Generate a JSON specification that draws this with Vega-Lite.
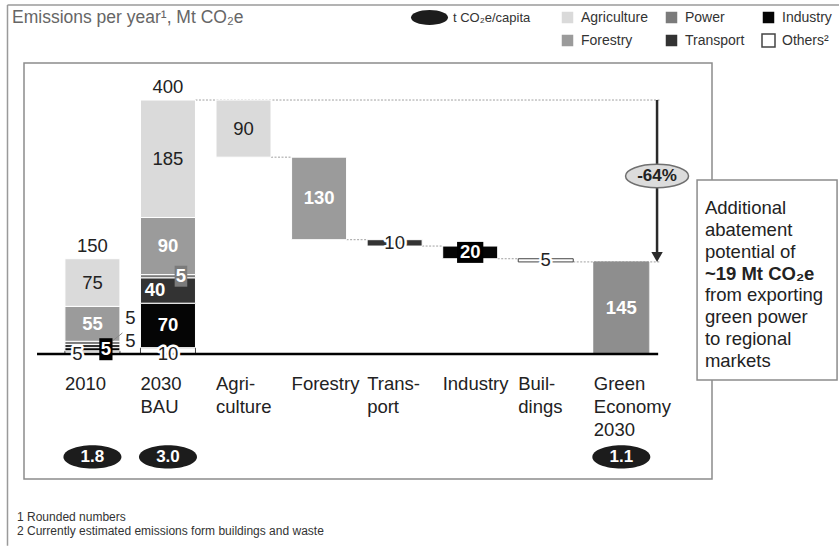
{
  "$schema": "https://vega.github.io/schema/vega-lite/v6.json",
  "width": 688,
  "height": 416,
  "autosize": {"type": "none"},
  "padding": {"left": 24, "top": 63, "right": 127, "bottom": 67},
  "background": "white",
  "config": {
    "view": {"stroke": "#8c8c8c", "strokeWidth": 1.5},
    "axis": {"disable": true},
    "text": {"font": "Liberation Sans"},
    "legend": {"labelFont": "Liberation Sans"}
  },
  "datasets": {
    "bars": [
      {"cat": "2010", "sector": "Others", "lo": 0, "hi": 5, "value": 5, "mid": 2.5},
      {"cat": "2010", "sector": "Industry", "lo": 5, "hi": 10, "value": 5, "mid": 7.5},
      {"cat": "2010", "sector": "Transport", "lo": 10, "hi": 15, "value": 5, "mid": 12.5},
      {"cat": "2010", "sector": "Power", "lo": 15, "hi": 20, "value": 5, "mid": 17.5},
      {"cat": "2010", "sector": "Forestry", "lo": 20, "hi": 75, "value": 55, "mid": 47.5},
      {"cat": "2010", "sector": "Agriculture", "lo": 75, "hi": 150, "value": 75, "mid": 112.5},
      {"cat": "2030 BAU", "sector": "Others", "lo": 0, "hi": 10, "value": 10, "mid": 5},
      {"cat": "2030 BAU", "sector": "Industry", "lo": 10, "hi": 80, "value": 70, "mid": 45},
      {"cat": "2030 BAU", "sector": "Transport", "lo": 80, "hi": 120, "value": 40, "mid": 100},
      {"cat": "2030 BAU", "sector": "Power", "lo": 120, "hi": 125, "value": 5, "mid": 122.5},
      {"cat": "2030 BAU", "sector": "Forestry", "lo": 125, "hi": 215, "value": 90, "mid": 170},
      {"cat": "2030 BAU", "sector": "Agriculture", "lo": 215, "hi": 400, "value": 185, "mid": 307.5},
      {"cat": "Agriculture", "sector": "Agriculture", "lo": 310, "hi": 400, "value": 90, "mid": 355},
      {"cat": "Forestry", "sector": "Forestry", "lo": 180, "hi": 310, "value": 130, "mid": 245},
      {"cat": "Transport", "sector": "Transport", "lo": 170, "hi": 180, "value": 10, "mid": 175},
      {"cat": "Industry", "sector": "Industry", "lo": 150, "hi": 170, "value": 20, "mid": 160},
      {"cat": "Buildings", "sector": "Others", "lo": 145, "hi": 150, "value": 5, "mid": 147.5},
      {"cat": "Green Economy 2030", "sector": "Total", "lo": 0, "hi": 145, "value": 145, "mid": 72.5}
    ],
    "totals": [
      {"cat": "2010", "total": 150},
      {"cat": "2030 BAU", "total": 400}
    ],
    "connectors": [
      {"from": "Agriculture", "to": "Forestry", "level": 310},
      {"from": "Forestry", "to": "Transport", "level": 180},
      {"from": "Transport", "to": "Industry", "level": 170},
      {"from": "Industry", "to": "Buildings", "level": 150}
    ],
    "arrowlinks": [
      {"from": "2030 BAU", "level": 400},
      {"from": "Buildings", "level": 145}
    ],
    "percap": [
      {"cat": "2010", "v": 1.8, "unit": "t CO₂e/capita"},
      {"cat": "2030 BAU", "v": 3.0, "unit": "t CO₂e/capita"},
      {"cat": "Green Economy 2030", "v": 1.1, "unit": "t CO₂e/capita"}
    ],
    "cats": [
      {"cat": "2010", "label": ["2010"]},
      {"cat": "2030 BAU", "label": ["2030", "BAU"]},
      {"cat": "Agriculture", "label": ["Agri-", "culture"]},
      {"cat": "Forestry", "label": ["Forestry"]},
      {"cat": "Transport", "label": ["Trans-", "port"]},
      {"cat": "Industry", "label": ["Industry"]},
      {"cat": "Buildings", "label": ["Buil-", "dings"]},
      {"cat": "Green Economy 2030", "label": ["Green", "Economy", "2030"]}
    ]
  },
  "layer": [
    {
      "data": {"values": [{}]},
      "mark": {"type": "rule", "stroke": "#9a9a9a", "strokeWidth": 1.5},
      "encoding": {
        "x": {"datum": "2010", "type": "nominal", "bandPosition": -1.044, "scale": {"type": "band", "domain": ["2010", "2030 BAU", "Agriculture", "Forestry", "Transport", "Industry", "Buildings", "Green Economy 2030"], "paddingInner": 0.272, "paddingOuter": 0.689, "align": 0.393, "round": false}},
        "y": {"datum": 549.6, "type": "quantitative", "scale": {"domain": [-196.9, 458.3], "nice": false, "zero": false}},
        "y2": {"datum": -302}
      }
    },
    {
      "data": {"values": [{}]},
      "mark": {"type": "rule", "stroke": "#9a9a9a", "strokeWidth": 1.5},
      "encoding": {
        "x": {"datum": "2010", "type": "nominal", "bandPosition": -1.044, "scale": {"type": "band", "domain": ["2010", "2030 BAU", "Agriculture", "Forestry", "Transport", "Industry", "Buildings", "Green Economy 2030"], "paddingInner": 0.272, "paddingOuter": 0.689, "align": 0.393, "round": false}},
        "x2": {"datum": "Green Economy 2030", "bandPosition": 4.46},
        "y": {"datum": 549.6, "type": "quantitative", "scale": {"domain": [-196.9, 458.3], "nice": false, "zero": false}}
      }
    },
    {
      "data": {"values": [{}]},
      "mark": {"type": "text", "text": "Emissions per year¹, Mt CO₂e", "align": "left", "baseline": "alphabetic", "fontSize": 17.5, "color": "#666666"},
      "encoding": {
        "x": {"datum": "2010", "type": "nominal", "bandPosition": -0.962, "scale": {"type": "band", "domain": ["2010", "2030 BAU", "Agriculture", "Forestry", "Transport", "Industry", "Buildings", "Green Economy 2030"], "paddingInner": 0.272, "paddingOuter": 0.689, "align": 0.393, "round": false}},
        "y": {"datum": 521.3, "type": "quantitative", "scale": {"domain": [-196.9, 458.3], "nice": false, "zero": false}}
      }
    },
    {
      "data": {"name": "connectors"},
      "mark": {"type": "rule", "stroke": "#a0a0a0", "strokeWidth": 1, "strokeDash": [2, 1.5]},
      "encoding": {
        "x": {"field": "from", "type": "nominal", "bandPosition": 1, "scale": {"type": "band", "domain": ["2010", "2030 BAU", "Agriculture", "Forestry", "Transport", "Industry", "Buildings", "Green Economy 2030"], "paddingInner": 0.272, "paddingOuter": 0.689, "align": 0.393, "round": false}},
        "x2": {"field": "to", "bandPosition": 0},
        "y": {"field": "level", "type": "quantitative", "scale": {"domain": [-196.9, 458.3], "nice": false, "zero": false}}
      }
    },
    {
      "data": {"name": "arrowlinks"},
      "mark": {"type": "rule", "stroke": "#a0a0a0", "strokeWidth": 1, "strokeDash": [2, 1.5]},
      "encoding": {
        "x": {"field": "from", "type": "nominal", "bandPosition": 1, "scale": {"type": "band", "domain": ["2010", "2030 BAU", "Agriculture", "Forestry", "Transport", "Industry", "Buildings", "Green Economy 2030"], "paddingInner": 0.272, "paddingOuter": 0.689, "align": 0.393, "round": false}},
        "x2": {"datum": "Green Economy 2030", "bandPosition": 1.205},
        "y": {"field": "level", "type": "quantitative", "scale": {"domain": [-196.9, 458.3], "nice": false, "zero": false}}
      }
    },
    {
      "data": {"name": "bars"},
      "mark": {"type": "bar", "strokeWidth": 1},
      "encoding": {
        "x": {"field": "cat", "type": "nominal", "scale": {"type": "band", "domain": ["2010", "2030 BAU", "Agriculture", "Forestry", "Transport", "Industry", "Buildings", "Green Economy 2030"], "paddingInner": 0.272, "paddingOuter": 0.689, "align": 0.393, "round": false}},
        "y": {"field": "lo", "type": "quantitative", "scale": {"domain": [-196.9, 458.3], "nice": false, "zero": false}},
        "y2": {"field": "hi"},
        "fill": {
          "field": "sector", "type": "nominal",
          "scale": {"domain": ["Agriculture", "Power", "Industry", "Forestry", "Transport", "Others", "Total"], "range": ["#dadada", "#7b7b7b", "#050505", "#9b9b9b", "#333333", "#ffffff", "#8e8e8e"]},
          "legend": {"orient": "none", "legendX": 536, "legendY": -53, "title": null, "columns": 3, "columnPadding": 14, "rowPadding": 4, "symbolType": "square", "symbolSize": 169, "labelFontSize": 14, "labelColor": "#333333", "labelOffset": 6, "padding": 0, "values": ["Agriculture", "Forestry", "Power", "Transport", "Industry", "Others"], "labelExpr": "datum.label == 'Others' ? 'Others²' : datum.label"}
        },
        "stroke": {
          "field": "sector", "type": "nominal",
          "scale": {"domain": ["Agriculture", "Power", "Industry", "Forestry", "Transport", "Others", "Total"], "range": ["#ffffff", "#ffffff", "#ffffff", "#ffffff", "#ffffff", "#444444", "#8e8e8e"]},
          "legend": {"orient": "none", "legendX": 536, "legendY": -53, "title": null, "columns": 3, "columnPadding": 14, "rowPadding": 4, "symbolType": "square", "symbolSize": 169, "labelFontSize": 14, "labelColor": "#333333", "labelOffset": 6, "padding": 0, "values": ["Agriculture", "Forestry", "Power", "Transport", "Industry", "Others"], "labelExpr": "datum.label == 'Others' ? 'Others²' : datum.label"}
        }
      }
    },
    {
      "data": {"values": [{}]},
      "mark": {"type": "rule", "stroke": "#000000", "strokeWidth": 2.5},
      "encoding": {
        "x": {"datum": "2010", "type": "nominal", "bandPosition": -0.507, "scale": {"type": "band", "domain": ["2010", "2030 BAU", "Agriculture", "Forestry", "Transport", "Industry", "Buildings", "Green Economy 2030"], "paddingInner": 0.272, "paddingOuter": 0.689, "align": 0.393, "round": false}},
        "x2": {"datum": "Green Economy 2030", "bandPosition": 1.17},
        "y": {"datum": 0, "type": "quantitative", "scale": {"domain": [-196.9, 458.3], "nice": false, "zero": false}}
      }
    },
    {
      "data": {"values": [{}]},
      "mark": {"type": "rule", "stroke": "#888888", "strokeWidth": 1},
      "encoding": {
        "x": {"datum": "2010", "type": "nominal", "bandPosition": 0.864, "scale": {"type": "band", "domain": ["2010", "2030 BAU", "Agriculture", "Forestry", "Transport", "Industry", "Buildings", "Green Economy 2030"], "paddingInner": 0.272, "paddingOuter": 0.689, "align": 0.393, "round": false}},
        "x2": {"datum": "2010", "bandPosition": 1.045},
        "y": {"datum": 20.5, "type": "quantitative", "scale": {"domain": [-196.9, 458.3], "nice": false, "zero": false}},
        "y2": {"datum": 33.1}
      }
    },
    {
      "data": {"name": "bars"},
      "transform": [{"filter": "datum.cat == '2010' && datum.sector == 'Industry'"}],
      "mark": {"type": "point", "shape": "M-0.6,-1H0.6V1H-0.6Z", "size": 484, "filled": true, "color": "#000000", "opacity": 1, "strokeWidth": 0},
      "encoding": {
        "x": {"field": "cat", "type": "nominal", "bandPosition": 0.745, "scale": {"type": "band", "domain": ["2010", "2030 BAU", "Agriculture", "Forestry", "Transport", "Industry", "Buildings", "Green Economy 2030"], "paddingInner": 0.272, "paddingOuter": 0.689, "align": 0.393, "round": false}},
        "y": {"field": "mid", "type": "quantitative", "scale": {"domain": [-196.9, 458.3], "nice": false, "zero": false}}
      }
    },
    {
      "data": {"name": "bars"},
      "transform": [{"filter": "datum.cat == 'Industry'"}],
      "mark": {"type": "point", "shape": "M-1.25,-1H1.25V1H-1.25Z", "size": 441, "filled": true, "color": "#000000", "opacity": 1, "strokeWidth": 0},
      "encoding": {
        "x": {"field": "cat", "type": "nominal", "scale": {"type": "band", "domain": ["2010", "2030 BAU", "Agriculture", "Forestry", "Transport", "Industry", "Buildings", "Green Economy 2030"], "paddingInner": 0.272, "paddingOuter": 0.689, "align": 0.393, "round": false}},
        "y": {"field": "mid", "type": "quantitative", "scale": {"domain": [-196.9, 458.3], "nice": false, "zero": false}}
      }
    },
    {
      "data": {"name": "bars"},
      "transform": [{"filter": "datum.cat == '2030 BAU' && datum.sector == 'Power'"}],
      "mark": {"type": "point", "shape": "M-0.6,-1H0.6V1H-0.6Z", "size": 441, "filled": true, "color": "#7b7b7b", "opacity": 1, "strokeWidth": 0},
      "encoding": {
        "x": {"field": "cat", "type": "nominal", "bandPosition": 0.736, "scale": {"type": "band", "domain": ["2010", "2030 BAU", "Agriculture", "Forestry", "Transport", "Industry", "Buildings", "Green Economy 2030"], "paddingInner": 0.272, "paddingOuter": 0.689, "align": 0.393, "round": false}},
        "y": {"field": "mid", "type": "quantitative", "scale": {"domain": [-196.9, 458.3], "nice": false, "zero": false}}
      }
    },
    {
      "data": {"name": "bars"},
      "transform": [{"filter": "datum.cat == '2010' && datum.sector == 'Others'"}],
      "mark": {"type": "text", "dx": -15, "baseline": "middle", "fontSize": 18.5, "fill": "#ffffff", "stroke": "#ffffff", "strokeWidth": 5, "strokeJoin": "round"},
      "encoding": {
        "x": {"field": "cat", "type": "nominal", "scale": {"type": "band", "domain": ["2010", "2030 BAU", "Agriculture", "Forestry", "Transport", "Industry", "Buildings", "Green Economy 2030"], "paddingInner": 0.272, "paddingOuter": 0.689, "align": 0.393, "round": false}},
        "y": {"field": "lo", "type": "quantitative", "scale": {"domain": [-196.9, 458.3], "nice": false, "zero": false}},
        "text": {"field": "value", "type": "quantitative"}
      }
    },
    {
      "data": {"name": "bars"},
      "transform": [{"filter": "datum.cat == '2010' && datum.sector == 'Others'"}],
      "mark": {"type": "text", "dx": -15, "baseline": "middle", "fontSize": 18.5, "color": "#222222"},
      "encoding": {
        "x": {"field": "cat", "type": "nominal", "scale": {"type": "band", "domain": ["2010", "2030 BAU", "Agriculture", "Forestry", "Transport", "Industry", "Buildings", "Green Economy 2030"], "paddingInner": 0.272, "paddingOuter": 0.689, "align": 0.393, "round": false}},
        "y": {"field": "lo", "type": "quantitative", "scale": {"domain": [-196.9, 458.3], "nice": false, "zero": false}},
        "text": {"field": "value", "type": "quantitative"}
      }
    },
    {
      "data": {"name": "bars"},
      "transform": [{"filter": "datum.cat == '2030 BAU' && datum.sector == 'Others'"}],
      "mark": {"type": "text", "baseline": "middle", "fontSize": 18.5, "fill": "#ffffff", "stroke": "#ffffff", "strokeWidth": 5, "strokeJoin": "round"},
      "encoding": {
        "x": {"field": "cat", "type": "nominal", "scale": {"type": "band", "domain": ["2010", "2030 BAU", "Agriculture", "Forestry", "Transport", "Industry", "Buildings", "Green Economy 2030"], "paddingInner": 0.272, "paddingOuter": 0.689, "align": 0.393, "round": false}},
        "y": {"field": "lo", "type": "quantitative", "scale": {"domain": [-196.9, 458.3], "nice": false, "zero": false}},
        "text": {"field": "value", "type": "quantitative"}
      }
    },
    {
      "data": {"name": "bars"},
      "transform": [{"filter": "datum.cat == '2030 BAU' && datum.sector == 'Others'"}],
      "mark": {"type": "text", "baseline": "middle", "fontSize": 18.5, "color": "#222222"},
      "encoding": {
        "x": {"field": "cat", "type": "nominal", "scale": {"type": "band", "domain": ["2010", "2030 BAU", "Agriculture", "Forestry", "Transport", "Industry", "Buildings", "Green Economy 2030"], "paddingInner": 0.272, "paddingOuter": 0.689, "align": 0.393, "round": false}},
        "y": {"field": "lo", "type": "quantitative", "scale": {"domain": [-196.9, 458.3], "nice": false, "zero": false}},
        "text": {"field": "value", "type": "quantitative"}
      }
    },
    {
      "data": {"name": "bars"},
      "transform": [{"filter": "datum.cat == 'Transport' || datum.cat == 'Buildings'"}],
      "mark": {"type": "text", "baseline": "middle", "fontSize": 18.5, "fill": "#ffffff", "stroke": "#ffffff", "strokeWidth": 5, "strokeJoin": "round"},
      "encoding": {
        "x": {"field": "cat", "type": "nominal", "scale": {"type": "band", "domain": ["2010", "2030 BAU", "Agriculture", "Forestry", "Transport", "Industry", "Buildings", "Green Economy 2030"], "paddingInner": 0.272, "paddingOuter": 0.689, "align": 0.393, "round": false}},
        "y": {"field": "mid", "type": "quantitative", "scale": {"domain": [-196.9, 458.3], "nice": false, "zero": false}},
        "text": {"field": "value", "type": "quantitative"}
      }
    },
    {
      "data": {"name": "bars"},
      "transform": [{"filter": "datum.cat == 'Transport' || datum.cat == 'Buildings'"}],
      "mark": {"type": "text", "baseline": "middle", "fontSize": 18.5, "color": "#222222"},
      "encoding": {
        "x": {"field": "cat", "type": "nominal", "scale": {"type": "band", "domain": ["2010", "2030 BAU", "Agriculture", "Forestry", "Transport", "Industry", "Buildings", "Green Economy 2030"], "paddingInner": 0.272, "paddingOuter": 0.689, "align": 0.393, "round": false}},
        "y": {"field": "mid", "type": "quantitative", "scale": {"domain": [-196.9, 458.3], "nice": false, "zero": false}},
        "text": {"field": "value", "type": "quantitative"}
      }
    },
    {
      "data": {"name": "bars"},
      "transform": [{"filter": "datum.sector == 'Agriculture'"}],
      "mark": {"type": "text", "baseline": "middle", "fontSize": 18.5, "color": "#222222"},
      "encoding": {
        "x": {"field": "cat", "type": "nominal", "scale": {"type": "band", "domain": ["2010", "2030 BAU", "Agriculture", "Forestry", "Transport", "Industry", "Buildings", "Green Economy 2030"], "paddingInner": 0.272, "paddingOuter": 0.689, "align": 0.393, "round": false}},
        "y": {"field": "mid", "type": "quantitative", "scale": {"domain": [-196.9, 458.3], "nice": false, "zero": false}},
        "text": {"field": "value", "type": "quantitative"}
      }
    },
    {
      "data": {"name": "bars"},
      "transform": [{"filter": "datum.sector == 'Forestry' || datum.sector == 'Total' || (datum.cat == '2030 BAU' && datum.sector == 'Industry')"}],
      "mark": {"type": "text", "baseline": "middle", "fontSize": 18.5, "fontWeight": "bold", "color": "#ffffff"},
      "encoding": {
        "x": {"field": "cat", "type": "nominal", "scale": {"type": "band", "domain": ["2010", "2030 BAU", "Agriculture", "Forestry", "Transport", "Industry", "Buildings", "Green Economy 2030"], "paddingInner": 0.272, "paddingOuter": 0.689, "align": 0.393, "round": false}},
        "y": {"field": "mid", "type": "quantitative", "scale": {"domain": [-196.9, 458.3], "nice": false, "zero": false}},
        "text": {"field": "value", "type": "quantitative"}
      }
    },
    {
      "data": {"name": "bars"},
      "transform": [{"filter": "datum.cat == '2030 BAU' && datum.sector == 'Transport'"}],
      "mark": {"type": "text", "dx": -13, "baseline": "middle", "fontSize": 18.5, "fontWeight": "bold", "color": "#ffffff"},
      "encoding": {
        "x": {"field": "cat", "type": "nominal", "scale": {"type": "band", "domain": ["2010", "2030 BAU", "Agriculture", "Forestry", "Transport", "Industry", "Buildings", "Green Economy 2030"], "paddingInner": 0.272, "paddingOuter": 0.689, "align": 0.393, "round": false}},
        "y": {"field": "mid", "type": "quantitative", "scale": {"domain": [-196.9, 458.3], "nice": false, "zero": false}},
        "text": {"field": "value", "type": "quantitative"}
      }
    },
    {
      "data": {"name": "bars"},
      "transform": [{"filter": "datum.cat == '2010' && datum.sector == 'Industry'"}],
      "mark": {"type": "text", "dx": 13.5, "baseline": "middle", "fontSize": 18.5, "fontWeight": "bold", "color": "#ffffff"},
      "encoding": {
        "x": {"field": "cat", "type": "nominal", "scale": {"type": "band", "domain": ["2010", "2030 BAU", "Agriculture", "Forestry", "Transport", "Industry", "Buildings", "Green Economy 2030"], "paddingInner": 0.272, "paddingOuter": 0.689, "align": 0.393, "round": false}},
        "y": {"field": "mid", "type": "quantitative", "scale": {"domain": [-196.9, 458.3], "nice": false, "zero": false}},
        "text": {"field": "value", "type": "quantitative"}
      }
    },
    {
      "data": {"name": "bars"},
      "transform": [{"filter": "datum.cat == 'Industry'"}],
      "mark": {"type": "text", "baseline": "middle", "fontSize": 18.5, "fontWeight": "bold", "color": "#ffffff"},
      "encoding": {
        "x": {"field": "cat", "type": "nominal", "scale": {"type": "band", "domain": ["2010", "2030 BAU", "Agriculture", "Forestry", "Transport", "Industry", "Buildings", "Green Economy 2030"], "paddingInner": 0.272, "paddingOuter": 0.689, "align": 0.393, "round": false}},
        "y": {"field": "mid", "type": "quantitative", "scale": {"domain": [-196.9, 458.3], "nice": false, "zero": false}},
        "text": {"field": "value", "type": "quantitative"}
      }
    },
    {
      "data": {"name": "bars"},
      "transform": [{"filter": "datum.cat == '2030 BAU' && datum.sector == 'Power'"}],
      "mark": {"type": "text", "dx": 13, "baseline": "middle", "fontSize": 18.5, "fontWeight": "bold", "color": "#ffffff"},
      "encoding": {
        "x": {"field": "cat", "type": "nominal", "scale": {"type": "band", "domain": ["2010", "2030 BAU", "Agriculture", "Forestry", "Transport", "Industry", "Buildings", "Green Economy 2030"], "paddingInner": 0.272, "paddingOuter": 0.689, "align": 0.393, "round": false}},
        "y": {"field": "mid", "type": "quantitative", "scale": {"domain": [-196.9, 458.3], "nice": false, "zero": false}},
        "text": {"field": "value", "type": "quantitative"}
      }
    },
    {
      "data": {"name": "bars"},
      "transform": [{"filter": "datum.cat == '2010' && datum.sector == 'Power'"}],
      "mark": {"type": "text", "baseline": "middle", "fontSize": 18.5, "color": "#222222"},
      "encoding": {
        "x": {"field": "cat", "type": "nominal", "bandPosition": 1.19, "scale": {"type": "band", "domain": ["2010", "2030 BAU", "Agriculture", "Forestry", "Transport", "Industry", "Buildings", "Green Economy 2030"], "paddingInner": 0.272, "paddingOuter": 0.689, "align": 0.393, "round": false}},
        "y": {"datum": 56.7, "type": "quantitative", "scale": {"domain": [-196.9, 458.3], "nice": false, "zero": false}},
        "text": {"field": "value", "type": "quantitative"}
      }
    },
    {
      "data": {"name": "bars"},
      "transform": [{"filter": "datum.cat == '2010' && datum.sector == 'Transport'"}],
      "mark": {"type": "text", "baseline": "middle", "fontSize": 18.5, "color": "#222222"},
      "encoding": {
        "x": {"field": "cat", "type": "nominal", "bandPosition": 1.19, "scale": {"type": "band", "domain": ["2010", "2030 BAU", "Agriculture", "Forestry", "Transport", "Industry", "Buildings", "Green Economy 2030"], "paddingInner": 0.272, "paddingOuter": 0.689, "align": 0.393, "round": false}},
        "y": {"datum": 20.5, "type": "quantitative", "scale": {"domain": [-196.9, 458.3], "nice": false, "zero": false}},
        "text": {"field": "value", "type": "quantitative"}
      }
    },
    {
      "data": {"name": "totals"},
      "mark": {"type": "text", "dy": -7, "baseline": "alphabetic", "fontSize": 18.5, "color": "#222222"},
      "encoding": {
        "x": {"field": "cat", "type": "nominal", "scale": {"type": "band", "domain": ["2010", "2030 BAU", "Agriculture", "Forestry", "Transport", "Industry", "Buildings", "Green Economy 2030"], "paddingInner": 0.272, "paddingOuter": 0.689, "align": 0.393, "round": false}},
        "y": {"field": "total", "type": "quantitative", "scale": {"domain": [-196.9, 458.3], "nice": false, "zero": false}},
        "text": {"field": "total", "type": "quantitative"}
      }
    },
    {
      "data": {"name": "cats"},
      "mark": {"type": "text", "align": "left", "baseline": "alphabetic", "fontSize": 18.5, "lineHeight": 23, "color": "#222222"},
      "encoding": {
        "x": {"field": "cat", "type": "nominal", "bandPosition": 0, "scale": {"type": "band", "domain": ["2010", "2030 BAU", "Agriculture", "Forestry", "Transport", "Industry", "Buildings", "Green Economy 2030"], "paddingInner": 0.272, "paddingOuter": 0.689, "align": 0.393, "round": false}},
        "y": {"datum": -56, "type": "quantitative", "scale": {"domain": [-196.9, 458.3], "nice": false, "zero": false}},
        "text": {"field": "label", "type": "nominal"}
      }
    },
    {
      "data": {"name": "percap"},
      "mark": {"type": "point", "filled": true, "color": "#1c1c1c", "size": 3364, "opacity": 1, "strokeWidth": 0},
      "encoding": {
        "x": {"field": "cat", "type": "nominal", "scale": {"type": "band", "domain": ["2010", "2030 BAU", "Agriculture", "Forestry", "Transport", "Industry", "Buildings", "Green Economy 2030"], "paddingInner": 0.272, "paddingOuter": 0.689, "align": 0.393, "round": false}},
        "y": {"datum": -162.2, "type": "quantitative", "scale": {"domain": [-196.9, 458.3], "nice": false, "zero": false}},
        "shape": {
          "field": "unit", "type": "nominal",
          "scale": {"range": ["M-1,0A1,0.4 0 1,0 1,0A1,0.4 0 1,0 -1,0Z"]},
          "legend": {"orient": "none", "legendX": 387, "legendY": -64, "title": null, "symbolSize": 1369, "labelFontSize": 13, "labelColor": "#333333", "labelOffset": 5, "padding": 0, "symbolFillColor": "#1c1c1c", "symbolStrokeWidth": 0}
        }
      }
    },
    {
      "data": {"name": "percap"},
      "mark": {"type": "text", "baseline": "middle", "fontSize": 17, "fontWeight": "bold", "color": "#ffffff"},
      "encoding": {
        "x": {"field": "cat", "type": "nominal", "scale": {"type": "band", "domain": ["2010", "2030 BAU", "Agriculture", "Forestry", "Transport", "Industry", "Buildings", "Green Economy 2030"], "paddingInner": 0.272, "paddingOuter": 0.689, "align": 0.393, "round": false}},
        "y": {"datum": -162.2, "type": "quantitative", "scale": {"domain": [-196.9, 458.3], "nice": false, "zero": false}},
        "text": {"field": "v", "type": "quantitative", "format": ".1f"}
      }
    },
    {
      "data": {"values": [{}]},
      "mark": {"type": "rule", "stroke": "#2a2a2a", "strokeWidth": 2.5},
      "encoding": {
        "x": {"datum": "Green Economy 2030", "type": "nominal", "bandPosition": 1.15, "scale": {"type": "band", "domain": ["2010", "2030 BAU", "Agriculture", "Forestry", "Transport", "Industry", "Buildings", "Green Economy 2030"], "paddingInner": 0.272, "paddingOuter": 0.689, "align": 0.393, "round": false}},
        "y": {"datum": 400, "type": "quantitative", "scale": {"domain": [-196.9, 458.3], "nice": false, "zero": false}},
        "y2": {"datum": 153}
      }
    },
    {
      "data": {"values": [{}]},
      "mark": {"type": "point", "shape": "triangle-down", "size": 130, "filled": true, "color": "#2a2a2a", "opacity": 1},
      "encoding": {
        "x": {"datum": "Green Economy 2030", "type": "nominal", "bandPosition": 1.15, "scale": {"type": "band", "domain": ["2010", "2030 BAU", "Agriculture", "Forestry", "Transport", "Industry", "Buildings", "Green Economy 2030"], "paddingInner": 0.272, "paddingOuter": 0.689, "align": 0.393, "round": false}},
        "y": {"datum": 152.8, "type": "quantitative", "scale": {"domain": [-196.9, 458.3], "nice": false, "zero": false}}
      }
    },
    {
      "data": {"values": [{}]},
      "mark": {"type": "point", "shape": "M-1,0A1,0.37 0 1,0 1,0A1,0.37 0 1,0 -1,0Z", "size": 3969, "filled": true, "fill": "#dcdcdc", "stroke": "#707070", "strokeWidth": 1.5, "opacity": 1},
      "encoding": {
        "x": {"datum": "Green Economy 2030", "type": "nominal", "bandPosition": 1.15, "scale": {"type": "band", "domain": ["2010", "2030 BAU", "Agriculture", "Forestry", "Transport", "Industry", "Buildings", "Green Economy 2030"], "paddingInner": 0.272, "paddingOuter": 0.689, "align": 0.393, "round": false}},
        "y": {"datum": 280.3, "type": "quantitative", "scale": {"domain": [-196.9, 458.3], "nice": false, "zero": false}}
      }
    },
    {
      "data": {"values": [{}]},
      "mark": {"type": "text", "text": "-64%", "baseline": "middle", "fontSize": 17, "fontWeight": "bold", "color": "#222222"},
      "encoding": {
        "x": {"datum": "Green Economy 2030", "type": "nominal", "bandPosition": 1.15, "scale": {"type": "band", "domain": ["2010", "2030 BAU", "Agriculture", "Forestry", "Transport", "Industry", "Buildings", "Green Economy 2030"], "paddingInner": 0.272, "paddingOuter": 0.689, "align": 0.393, "round": false}},
        "y": {"datum": 280.3, "type": "quantitative", "scale": {"domain": [-196.9, 458.3], "nice": false, "zero": false}}
      }
    },
    {
      "data": {"values": [{}]},
      "mark": {"type": "point", "shape": "M-0.7,-1H0.7V1H-0.7Z", "size": 40000, "filled": true, "fill": "#ffffff", "stroke": "#8c8c8c", "strokeWidth": 1.5, "opacity": 1},
      "encoding": {
        "x": {"datum": "Green Economy 2030", "type": "nominal", "bandPosition": 3.15, "scale": {"type": "band", "domain": ["2010", "2030 BAU", "Agriculture", "Forestry", "Transport", "Industry", "Buildings", "Green Economy 2030"], "paddingInner": 0.272, "paddingOuter": 0.689, "align": 0.393, "round": false}},
        "y": {"datum": 116.5, "type": "quantitative", "scale": {"domain": [-196.9, 458.3], "nice": false, "zero": false}}
      }
    },
    {
      "data": {"values": [{}]},
      "mark": {"type": "text", "text": ["Additional", "abatement", "potential of"], "align": "left", "baseline": "alphabetic", "fontSize": 18.5, "lineHeight": 22, "color": "#222222"},
      "encoding": {
        "x": {"datum": "Green Economy 2030", "type": "nominal", "bandPosition": 2.02, "scale": {"type": "band", "domain": ["2010", "2030 BAU", "Agriculture", "Forestry", "Transport", "Industry", "Buildings", "Green Economy 2030"], "paddingInner": 0.272, "paddingOuter": 0.689, "align": 0.393, "round": false}},
        "y": {"datum": 220.5, "type": "quantitative", "scale": {"domain": [-196.9, 458.3], "nice": false, "zero": false}}
      }
    },
    {
      "data": {"values": [{}]},
      "mark": {"type": "text", "text": "~19 Mt CO₂e", "align": "left", "baseline": "alphabetic", "fontSize": 18.5, "fontWeight": "bold", "color": "#222222"},
      "encoding": {
        "x": {"datum": "Green Economy 2030", "type": "nominal", "bandPosition": 2.02, "scale": {"type": "band", "domain": ["2010", "2030 BAU", "Agriculture", "Forestry", "Transport", "Industry", "Buildings", "Green Economy 2030"], "paddingInner": 0.272, "paddingOuter": 0.689, "align": 0.393, "round": false}},
        "y": {"datum": 117.3, "type": "quantitative", "scale": {"domain": [-196.9, 458.3], "nice": false, "zero": false}}
      }
    },
    {
      "data": {"values": [{}]},
      "mark": {"type": "text", "text": ["from exporting", "green power", "to regional", "markets"], "align": "left", "baseline": "alphabetic", "fontSize": 18.5, "lineHeight": 22, "color": "#222222"},
      "encoding": {
        "x": {"datum": "Green Economy 2030", "type": "nominal", "bandPosition": 2.02, "scale": {"type": "band", "domain": ["2010", "2030 BAU", "Agriculture", "Forestry", "Transport", "Industry", "Buildings", "Green Economy 2030"], "paddingInner": 0.272, "paddingOuter": 0.689, "align": 0.393, "round": false}},
        "y": {"datum": 82.7, "type": "quantitative", "scale": {"domain": [-196.9, 458.3], "nice": false, "zero": false}}
      }
    },
    {
      "data": {"values": [{}]},
      "mark": {"type": "text", "text": ["1 Rounded numbers", "2 Currently estimated emissions form buildings and waste"], "align": "left", "baseline": "alphabetic", "fontSize": 12, "lineHeight": 14, "color": "#333333"},
      "encoding": {
        "x": {"datum": "2010", "type": "nominal", "bandPosition": -0.871, "scale": {"type": "band", "domain": ["2010", "2030 BAU", "Agriculture", "Forestry", "Transport", "Industry", "Buildings", "Green Economy 2030"], "paddingInner": 0.272, "paddingOuter": 0.689, "align": 0.393, "round": false}},
        "y": {"datum": -263, "type": "quantitative", "scale": {"domain": [-196.9, 458.3], "nice": false, "zero": false}}
      }
    }
  ]
}
